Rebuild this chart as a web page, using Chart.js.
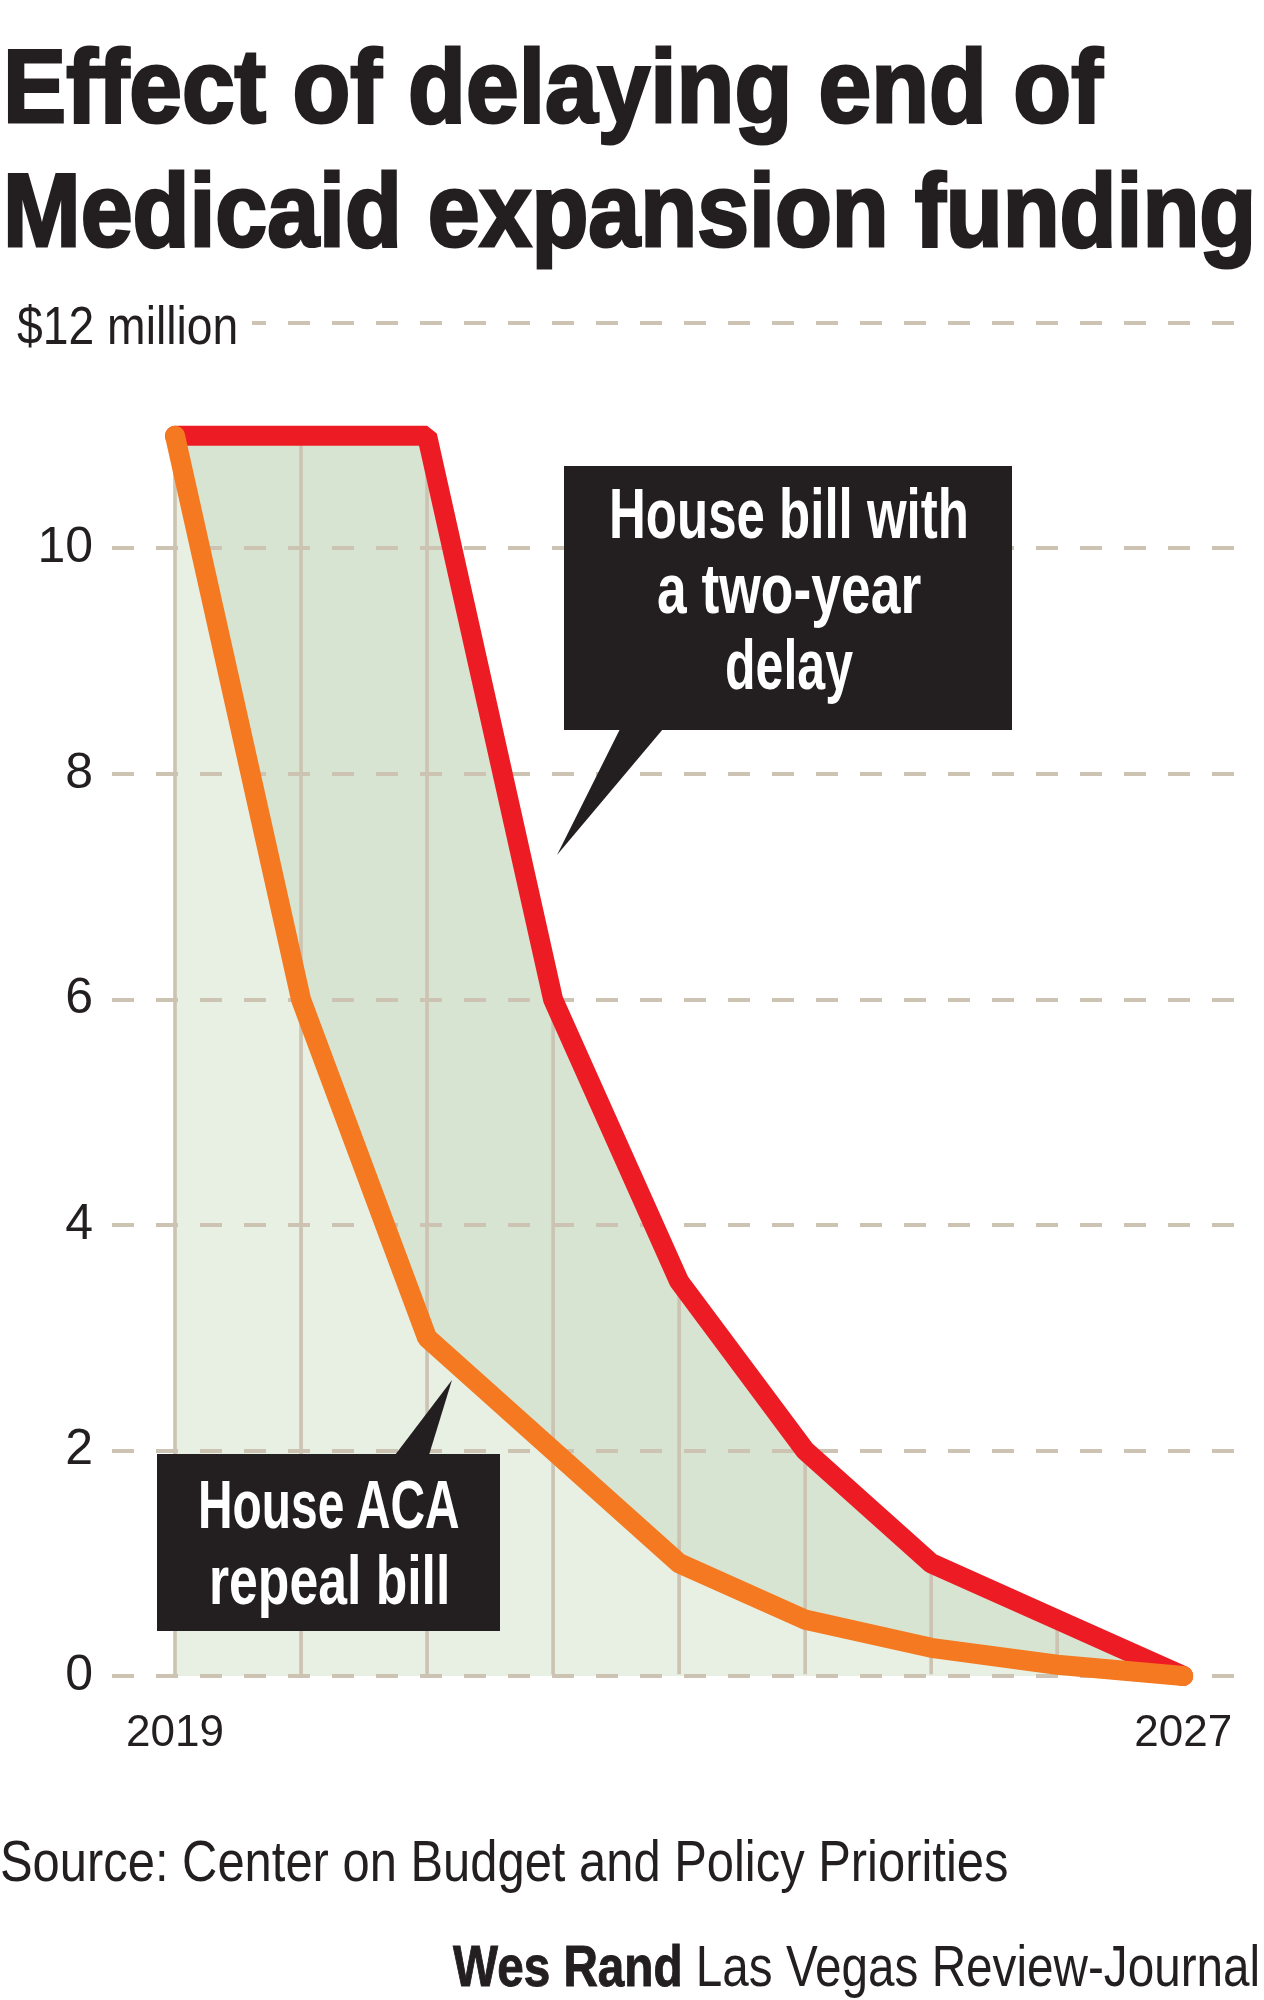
<!DOCTYPE html>
<html>
<head>
<meta charset="utf-8">
<script src="https://cdn.jsdelivr.net/npm/chart.js@4.4.1/dist/chart.umd.min.js"></script>
<style>
  body { margin: 0; background: #fff; width: 1264px; height: 2000px; position: relative; overflow: hidden;
         font-family: "Liberation Sans Narrow", "Liberation Sans", Arial, sans-serif; color: #231f20; }
  .t { position: absolute; white-space: nowrap; line-height: 1; transform-origin: 0 0; }
  .b { font-weight: 700; }
  .w { color: #fff; font-weight: 700; }
  #chartWrap { position: absolute; left: 0; top: 280px; width: 1264px; height: 1500px; }
  .mask { position: absolute; background: #fff; }
  .box { position: absolute; background: #231f20; }
</style>
</head>
<body>
<div class="t b" style="top:34px;font-size:104px;-webkit-text-stroke:3px #231f20" data-x="3" data-w="1100">Effect of delaying end of</div>
<div class="t b" style="top:158px;font-size:104px;-webkit-text-stroke:3px #231f20" data-x="3" data-w="1253">Medicaid expansion funding</div>

<div id="chartWrap"><canvas id="chart" width="1264" height="1500"></canvas></div>

<div class="mask" style="left:0;top:296px;width:252px;height:52px"></div>
<div class="t" style="top:299px;font-size:53px" data-x="17" data-w="221">$12 million</div>

<div class="box" style="left:564px;top:466px;width:448px;height:264px"></div>
<div class="box" style="left:0;top:0;width:1264px;height:2000px;clip-path:polygon(620px 729px,663px 729px,557px 855px)"></div>
<div class="t w" style="top:479px;font-size:70px" data-x="789" data-a="c" data-w="360">House bill with</div>
<div class="t w" style="top:554px;font-size:70px" data-x="789" data-a="c" data-w="264">a two-year</div>
<div class="t w" style="top:630px;font-size:70px" data-x="789" data-a="c" data-w="128">delay</div>

<div class="box" style="left:157px;top:1454px;width:343px;height:177px"></div>
<div class="box" style="left:0;top:0;width:1264px;height:2000px;clip-path:polygon(395px 1455px,429px 1455px,452px 1380px)"></div>
<div class="t w" style="top:1470px;font-size:68px" data-x="329" data-a="c" data-w="262">House ACA</div>
<div class="t w" style="top:1546px;font-size:68px" data-x="329" data-a="c" data-w="241">repeal bill</div>

<div class="t" style="top:1833px;font-size:57px" data-x="0" data-w="1008">Source: Center on Budget and Policy Priorities</div>
<div class="t" style="top:1938px;font-size:57px" data-x="1260" data-a="r" data-w="807"><span class="b" style="-webkit-text-stroke:1px #231f20">Wes Rand</span> Las Vegas Review-Journal</div>

<script>
const years = [2019, 2020, 2021, 2022, 2023, 2024, 2025, 2026, 2027];
const delayBill = [11, 11, 11, 6, 3.5, 2, 1, 0.5, 0];
const repealBill = [11, 6, 3, 2, 1, 0.5, 0.25, 0.1, 0];
const yTicks = [0, 2, 4, 6, 8, 10, 12];
const xLabelYears = [2019, 2027];

const red = '#ed1c24';
const orange = '#f47920';
const lightGreen = '#e8f0e4';
const darkGreen = '#d7e4d2';
const gridCol = '#cdc3b3';
const ink = '#231f20';
const tickFont = '"Liberation Sans Narrow", "Liberation Sans", Arial, sans-serif';

const pts = vals => years.map((y, i) => ({ x: y, y: vals[i] }));

new Chart(document.getElementById('chart'), {
    type: 'line',
    data: {
        datasets: [
            {
                // thin year rules under the shaded area
                type: 'bar',
                label: 'year rules',
                data: pts(delayBill),
                backgroundColor: gridCol,
                barThickness: 3,
                grouped: false,
                order: 2
            },
            {
                label: 'House ACA repeal bill',
                data: pts(repealBill),
                borderColor: orange,
                backgroundColor: lightGreen,
                fill: 'origin',
                borderWidth: 20,
                borderCapStyle: 'round',
                borderJoinStyle: 'bevel',
                pointRadius: 0,
                tension: 0,
                clip: false,
                order: 0
            },
            {
                label: 'House bill with a two-year delay',
                data: pts(delayBill),
                borderColor: red,
                backgroundColor: darkGreen,
                fill: '-1',
                borderWidth: 20,
                borderCapStyle: 'round',
                borderJoinStyle: 'bevel',
                pointRadius: 0,
                tension: 0,
                clip: false,
                order: 1
            }
        ]
    },
    options: {
        responsive: false,
        animation: false,
        devicePixelRatio: 1,
        layout: { padding: { top: 43, left: 0, right: 15, bottom: 0 } },
        plugins: {
            legend: { display: false },
            tooltip: { enabled: false },
            filler: { drawTime: 'beforeDraw' }
        },
        scales: {
            x: {
                type: 'linear',
                min: 2018.5,
                max: 2027.5,
                offset: false,
                afterBuildTicks: s => { s.ticks = years.map(v => ({ value: v })); },
                afterFit: s => { s.height = 104; },
                grid: { display: false, offset: false, drawTicks: false },
                border: { display: false },
                ticks: {
                    autoSkip: false,
                    maxRotation: 0,
                    padding: 31,
                    color: ink,
                    font: { family: tickFont, size: 44 },
                    callback: v => xLabelYears.includes(v) ? String(v) : ''
                }
            },
            y: {
                min: 0,
                max: 12,
                afterBuildTicks: s => { s.ticks = yTicks.map(v => ({ value: v })); },
                afterFit: s => { s.width = 112; },
                grid: { color: gridCol, lineWidth: 4, drawTicks: false },
                border: { display: false, dash: [22, 22] },
                ticks: {
                    padding: 19,
                    color: ink,
                    font: { family: tickFont, size: 50, lineHeight: 0.5 },
                    callback: v => v === 12 ? '' : String(v)
                }
            }
        }
    }
});

// squeeze each text line to the width it has in the print graphic
document.querySelectorAll('.t').forEach(el => {
    const w = +el.dataset.w, nat = el.offsetWidth;
    el.style.transform = 'scaleX(' + (w / nat) + ')';
    const x = +el.dataset.x, a = el.dataset.a || 'l';
    el.style.left = (a === 'c' ? x - w / 2 : a === 'r' ? x - w : x) + 'px';
});
</script>
</body>
</html>
